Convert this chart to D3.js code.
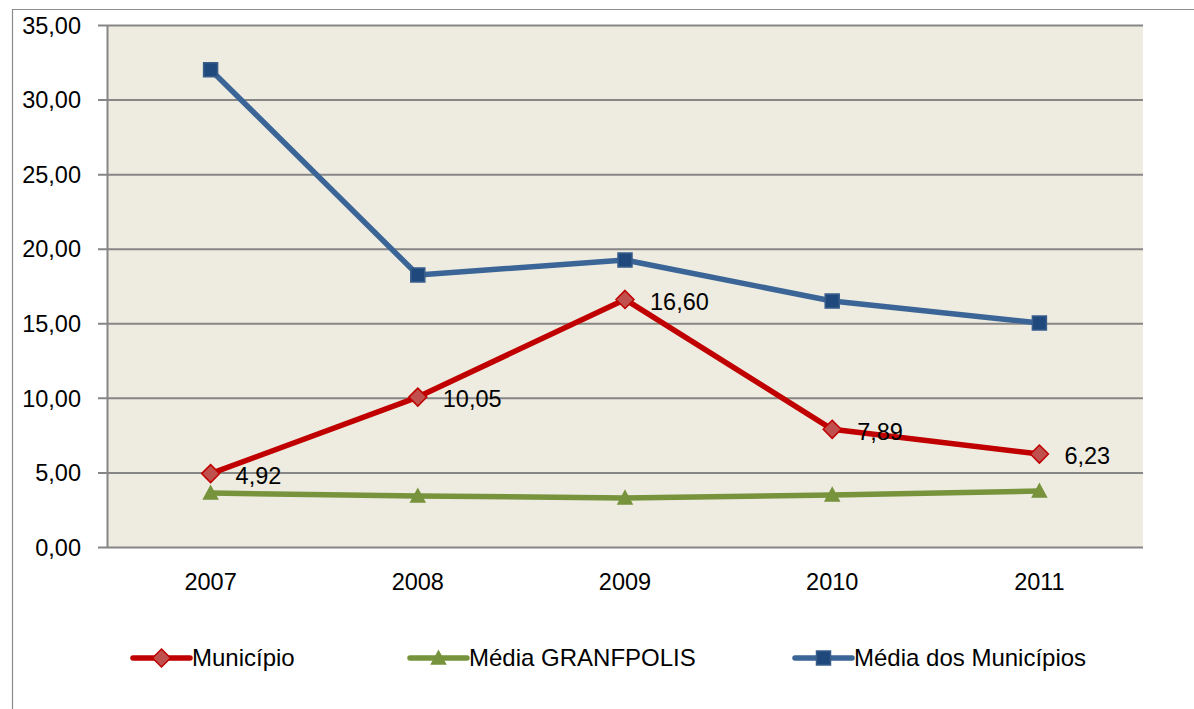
<!DOCTYPE html>
<html><head><meta charset="utf-8">
<script src="https://cdn.jsdelivr.net/npm/d3@7"></script>
<style>body{margin:0;background:#fff}svg{display:block}text{font-family:"Liberation Sans",Arial,sans-serif;fill:#000}</style>
</head><body>
<svg id="c" width="1194" height="709"></svg>
<script>
const years = ["2007","2008","2009","2010","2011"];
const municipio = [4.92, 10.05, 16.60, 7.89, 6.23];
const mediaGranfpolis = [3.62, 3.42, 3.29, 3.49, 3.75];
const mediaMunicipios = [32.00, 18.24, 19.24, 16.49, 15.02];
const yTicks = [0,5,10,15,20,25,30,35];
const seriesNames = ["Município","Média GRANFPOLIS","Média dos Municípios"];

const svg = d3.select("#c");
const L=107, R=1143, T=25, B=547;
const x = d3.scaleBand().domain(years).range([L,R]);
const y = d3.scaleLinear().domain([0,35]).range([B,T]);
const fmt = v => d3.format(".2f")(v).replace(".",",");

// outer border
svg.append("path").attr("d","M12.5,709V9.5H1194").attr("fill","none").attr("stroke","#8c8c8c").attr("stroke-width",1.2);

// plot area
svg.append("rect").attr("x",L).attr("y",T).attr("width",R-L).attr("height",B-T).attr("fill","#EEEBE0");

// y axis with gridlines
const yAxis = d3.axisLeft(y).tickValues(yTicks).tickSize(-(R-L)).tickSizeOuter(0).tickPadding(26).tickFormat(fmt);
const gy = svg.append("g").attr("transform",`translate(${L},0)`).call(yAxis);
gy.select(".domain").attr("stroke","#868686").attr("stroke-width",2);
gy.selectAll(".tick line").attr("stroke","#868686").attr("stroke-width",2).attr("x1",-9);
gy.selectAll(".tick text").attr("font-size",23.5).attr("font-family","Liberation Sans, Arial, sans-serif").attr("fill","#000").attr("dy","0.35em");

// x axis labels
const xAxis = d3.axisBottom(x).tickSize(0).tickPadding(26);
const gx = svg.append("g").attr("transform",`translate(0,${B})`).call(xAxis);
gx.select(".domain").remove();
gx.selectAll(".tick text").attr("font-size",23.5).attr("font-family","Liberation Sans, Arial, sans-serif").attr("fill","#000");

const cx = d => x(d)+x.bandwidth()/2;
const line = d3.line().x((d,i)=>cx(years[i])).y(d=>y(d));

const series = [
 {name:seriesNames[0], vals:municipio, color:"#C00000", marker:"diamond", fill:"#C0504D", stroke:"#C00000"},
 {name:seriesNames[1], vals:mediaGranfpolis, color:"#77933C", marker:"triangle", fill:"#77933C", stroke:"#77933C"},
 {name:seriesNames[2], vals:mediaMunicipios, color:"#3A6596", marker:"square", fill:"#1F497D", stroke:"#385D8A"}
];
function markerPath(type){
  if(type==="diamond") return "M0,-9L9,0L0,9L-9,0Z";
  if(type==="triangle") return "M0,-7L7,6L-7,6Z";
  return "M-7,-7H7V7H-7Z";
}
[1,2,0].forEach(k=>{
  const s=series[k];
  svg.append("path").datum(s.vals).attr("d",line).attr("fill","none").attr("stroke",s.color).attr("stroke-width",5.5).attr("stroke-linejoin","round");
  svg.selectAll(null).data(s.vals).enter().append("path")
    .attr("transform",(d,i)=>`translate(${cx(years[i])},${y(d)})`)
    .attr("d",markerPath(s.marker)).attr("fill",s.fill).attr("stroke",s.stroke).attr("stroke-width",1.5);
});

// data labels for Município
svg.selectAll(null).data(municipio).enter().append("text")
  .attr("x",(d,i)=>cx(years[i])+25).attr("y",d=>y(d)+2).attr("dy","0.35em")
  .attr("font-size",23.5).text(d=>fmt(d));

// legend
const legX=[133,410,795], legY=658;
series.forEach((s,i)=>{
  const g=svg.append("g").attr("transform",`translate(${legX[i]},${legY})`);
  g.append("line").attr("x1",0).attr("x2",57).attr("stroke",s.color).attr("stroke-width",5.5).attr("stroke-linecap","round");
  g.append("path").attr("transform","translate(28.5,0)").attr("d",markerPath(s.marker)).attr("fill",s.fill).attr("stroke",s.stroke).attr("stroke-width",1.5);
  g.append("text").attr("x",59).attr("dy","0.35em").attr("font-size",24).text(s.name);
});
</script>
</body></html>
